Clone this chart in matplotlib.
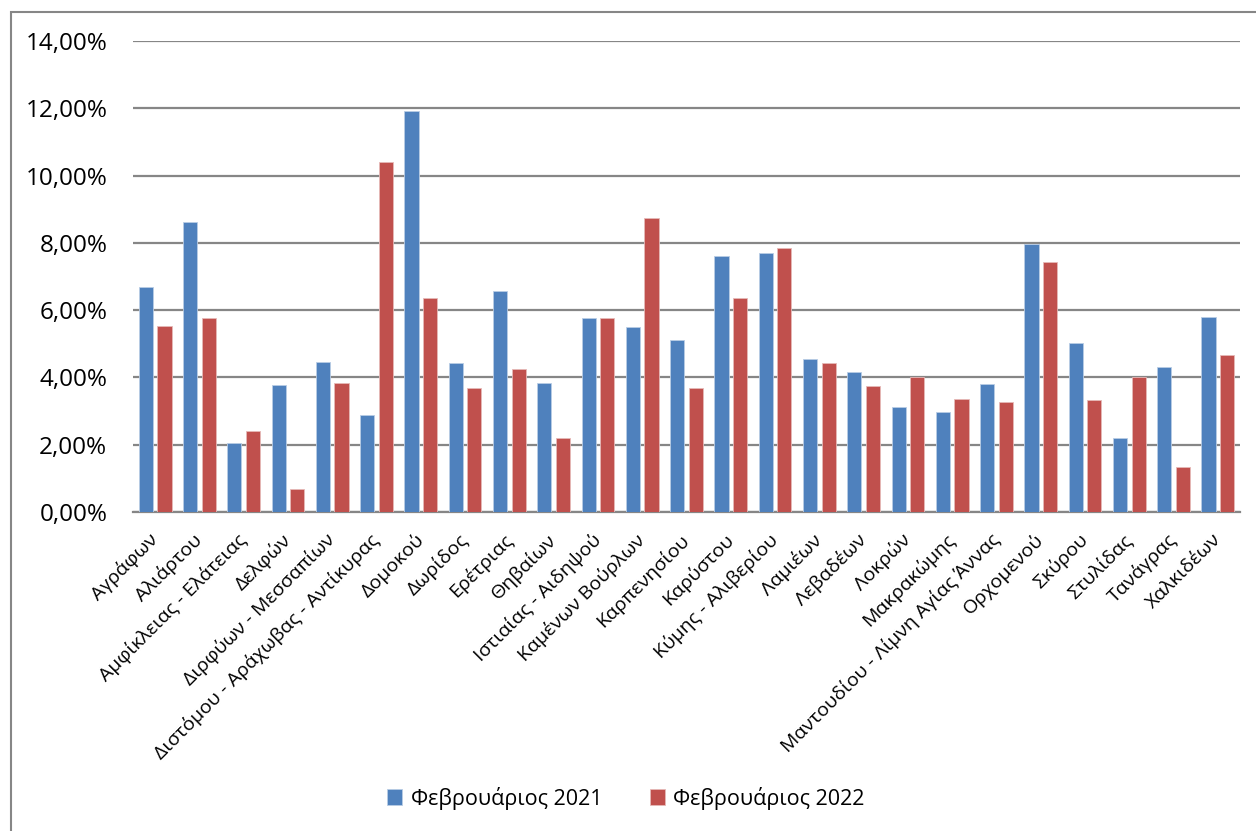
import numpy as np
import matplotlib
matplotlib.use('Agg')
import matplotlib.pyplot as plt
from matplotlib.patches import Rectangle
from matplotlib.ticker import FuncFormatter

plt.rcParams['font.family'] = ['Open Sans', 'DejaVu Sans']

# Data (percent)
categories = ['Αγράφων', 'Αλιάρτου', 'Αμφίκλειας - Ελάτειας', 'Δελφών',
              'Διρφύων - Μεσσαπίων', 'Διστόμου - Αράχωβας - Αντίκυρας',
              'Δομοκού', 'Δωρίδος', 'Ερέτριας', 'Θηβαίων', 'Ιστιαίας - Αιδηψού',
              'Καμένων Βούρλων', 'Καρπενησίου', 'Καρύστου', 'Κύμης - Αλιβερίου',
              'Λαμιέων', 'Λεβαδέων', 'Λοκρών', 'Μακρακώμης',
              'Μαντουδίου - Λίμνη Αγίας Άννας', 'Ορχομενού', 'Σκύρου',
              'Στυλίδας', 'Τανάγρας', 'Χαλκιδέων']
feb_2021 = [6.68, 8.62, 2.04, 3.77, 4.47, 2.89, 11.92, 4.43, 6.58, 3.83,
            5.76, 5.51, 5.11, 7.60, 7.70, 4.55, 4.17, 3.12, 2.98, 3.80,
            7.97, 5.03, 2.21, 4.31, 5.81]
feb_2022 = [5.54, 5.77, 2.41, 0.69, 3.83, 10.40, 6.37, 3.68, 4.26, 2.20,
            5.76, 8.73, 3.68, 6.37, 7.85, 4.43, 3.75, 4.00, 3.35, 3.26,
            7.42, 3.33, 4.00, 1.33, 4.67]
series_names = ['Φεβρουάριος 2021', 'Φεβρουάριος 2022']

W, H = 1256, 831
fig = plt.figure(figsize=(W / 100, H / 100), dpi=100)
# plot area in pixels: x 133..1240, y 41..512
ax = fig.add_axes([133 / W, 1 - 512 / H, (1240 - 133) / W, (512 - 41) / H])

x = np.arange(len(categories))
bw = 0.32
off = 0.21
ax.bar(x - off, feb_2021, bw, color='#4F81BD', edgecolor='#B9CDE5', linewidth=0.6,
       label=series_names[0], zorder=3)
ax.bar(x + off, feb_2022, bw, color='#C0504D', edgecolor='#E6B9B8', linewidth=0.6,
       label=series_names[1], zorder=3)

ax.set_xlim(-0.5, len(categories) - 0.5)
ax.set_ylim(0, 14)
ax.set_yticks(np.arange(0, 15, 2))
ax.yaxis.set_major_formatter(FuncFormatter(lambda v, p: f'{v:.2f}%'.replace('.', ',')))
ax.grid(axis='y', color='#868686', linewidth=1.6, zorder=0)
ax.set_axisbelow(True)

for s in ['top', 'right', 'left']:
    ax.spines[s].set_visible(False)
ax.spines['bottom'].set_color('#868686')
ax.spines['bottom'].set_linewidth(1.6)
ax.tick_params(axis='y', length=0, pad=18.5, labelsize=17.5)
ax.tick_params(axis='x', length=0, pad=18)

ax.set_xticks(x)
ax.set_xticklabels(categories, rotation=45, ha='right', va='center',
                   rotation_mode='anchor', fontsize=14)

fig.legend(loc='center', bbox_to_anchor=(626 / W, 1 - 798 / H), ncol=2,
           frameon=False, fontsize=15.5, handlelength=0.7, handleheight=0.7,
           handletextpad=0.4, columnspacing=2.2)

# chart area border
fig.patches.append(Rectangle((11 / W, -0.1), 1.2, 1 - 12 / H + 0.1,
                             transform=fig.transFigure, fill=False,
                             edgecolor='#868686', linewidth=1.5))

fig.savefig('out.png', dpi=100)
